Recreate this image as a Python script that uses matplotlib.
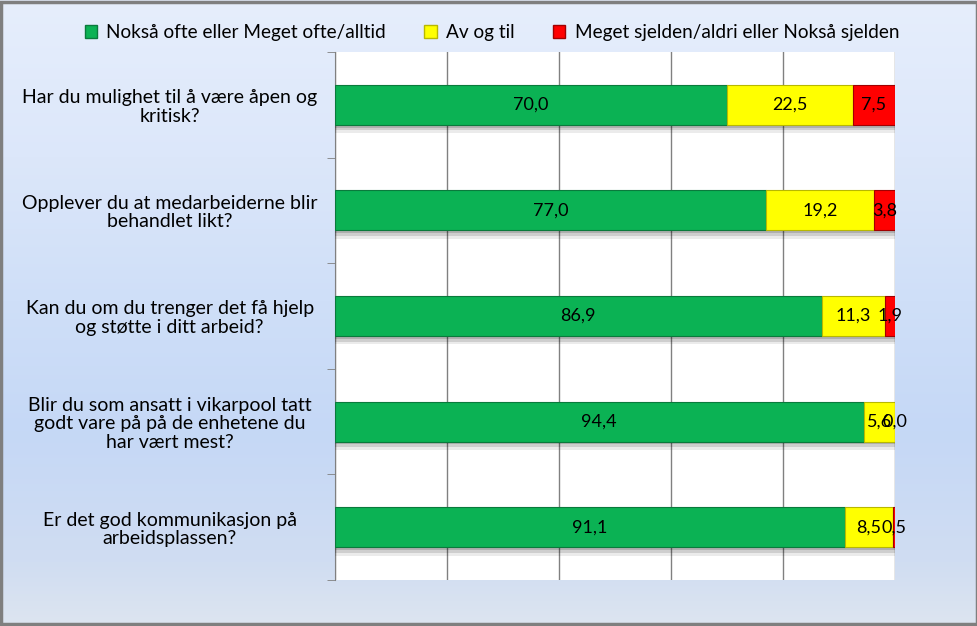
import numpy as np
import matplotlib.pyplot as plt
from matplotlib.patches import Patch, Rectangle
from matplotlib.colors import LinearSegmentedColormap
import matplotlib.patheffects as pe

plt.rcParams['font.family'] = ['Lato', 'DejaVu Sans']

sporsmal = [
    "Har du mulighet til å være åpen og\nkritisk?",
    "Opplever du at medarbeiderne blir\nbehandlet likt?",
    "Kan du om du trenger det få hjelp\nog støtte i ditt arbeid?",
    "Blir du som ansatt i vikarpool tatt\ngodt vare på på de enhetene du\nhar vært mest?",
    "Er det god kommunikasjon på\narbeidsplassen?",
]
ofte = [70.0, 77.0, 86.9, 94.4, 91.1]
av_og_til = [22.5, 19.2, 11.3, 5.6, 8.5]
sjelden = [7.5, 3.8, 1.9, 0.0, 0.5]

serier = ["Nokså ofte eller Meget ofte/alltid", "Av og til",
          "Meget sjelden/aldri eller Nokså sjelden"]
farger = ["#0bb254", "#ffff00", "#ff0000"]
kanter = ["#0a7a3c", "#b8b800", "#a00000"]

fig = plt.figure(figsize=(9.78, 6.26), dpi=100)

# bakgrunn med gradient
bg = fig.add_axes([0, 0, 1, 1], zorder=-10)
cmap = LinearSegmentedColormap.from_list("bg", [
    (0.0, "#e6eefc"), (0.25, "#dce7fa"), (0.48, "#cfdff8"),
    (0.69, "#c5d8f6"), (0.9, "#d0ddf2"), (1.0, "#dde5f0")])
bg.imshow(np.linspace(0, 1, 256).reshape(-1, 1), aspect="auto", cmap=cmap,
          extent=[0, 1, 0, 1], origin="upper")
bg.axis("off")
fig.patches.append(Rectangle((0.0015, 0.0025), 0.997, 0.995, transform=fig.transFigure,
                             fill=False, edgecolor="#7f7f7f", linewidth=2.5))

ax = fig.add_axes([0.3425, 0.0735, 0.5726, 0.8435])
ax.set_facecolor("white")

y = np.arange(len(sporsmal))
venstre = np.zeros(len(sporsmal))
skygge = [pe.SimplePatchShadow(offset=(0, -6), alpha=0.08, shadow_rgbFace="black"),
          pe.SimplePatchShadow(offset=(0, -4), alpha=0.12, shadow_rgbFace="black"),
          pe.SimplePatchShadow(offset=(0, -2), alpha=0.15, shadow_rgbFace="black"),
          pe.Normal()]
for verdier, navn, farge, kant in zip([ofte, av_og_til, sjelden], serier, farger, kanter):
    bars = ax.barh(y, verdier, left=venstre, height=0.38, color=farge,
                   edgecolor=kant, linewidth=0.8, label=navn, zorder=3)
    for b in bars:
        b.set_path_effects(skygge)
    ax.bar_label(bars, labels=[f"{v:.1f}".replace(".", ",") for v in verdier],
                 label_type="center", fontsize=13, color="black", zorder=5)
    venstre += np.array(verdier)

ax.set_xlim(0, 100)
ax.set_ylim(len(sporsmal) - 0.5, -0.5)
ax.set_xticks([0, 20, 40, 60, 80, 100])
ax.xaxis.grid(True, color="#808080", linewidth=1)
ax.tick_params(axis="x", length=0, labelbottom=False)
ax.set_yticks(y)
ax.set_yticklabels(sporsmal, fontsize=14, ha="center", multialignment="center",
                   linespacing=1.1)
ax.tick_params(axis="y", which="major", length=0, pad=119)
ax.set_yticks(np.arange(-0.5, len(sporsmal)), minor=True)
ax.tick_params(axis="y", which="minor", length=6, color="#808080")
for s in ["top", "right", "bottom"]:
    ax.spines[s].set_visible(False)
ax.spines["left"].set_color("#808080")

handles = [Patch(facecolor=f, edgecolor=k, label=n) for f, k, n in zip(farger, kanter, serier)]
fig.legend(handles=handles, loc="center", bbox_to_anchor=(0.503, 0.948), ncol=3,
           frameon=False, fontsize=13.7, handlelength=0.65, handleheight=0.65,
           handletextpad=0.5, columnspacing=2.0)

fig.savefig("out.png", dpi=100)
